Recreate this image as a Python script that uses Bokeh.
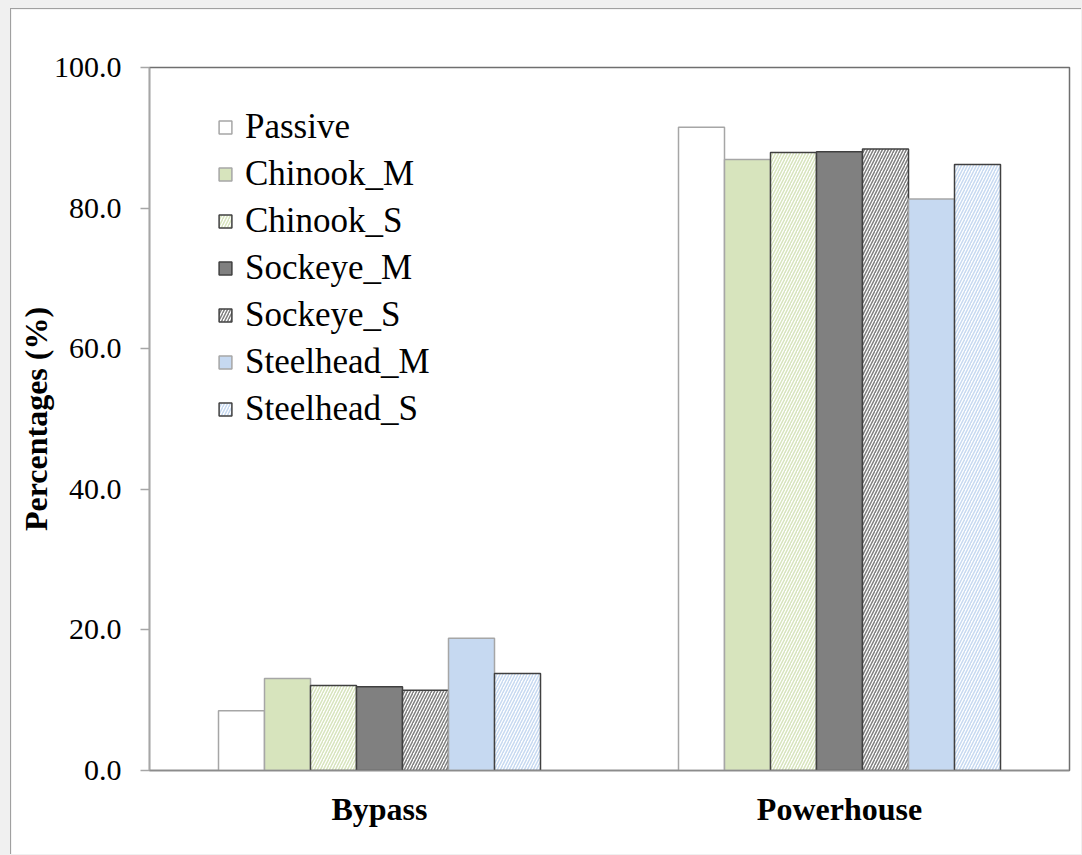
from bokeh.plotting import figure
from bokeh.models import (FactorRange, ColumnDataSource, Legend, LegendItem,
                          FixedTicker, NumeralTickFormatter, Range1d,
                          GlobalInlineStyleSheet)
from bokeh.transform import dodge
from bokeh.embed import file_html
from bokeh.resources import INLINE

# ---- data ----
categories = ["Bypass", "Powerhouse"]
series = ["Passive", "Chinook_M", "Chinook_S", "Sockeye_M", "Sockeye_S",
          "Steelhead_M", "Steelhead_S"]
passive = [8.5, 91.5]
chinook_m = [13.1, 86.9]
chinook_s = [12.1, 87.9]
sockeye_m = [11.9, 88.0]
sockeye_s = [11.4, 88.4]
steelhead_m = [18.8, 81.3]
steelhead_s = [13.8, 86.2]
values = [passive, chinook_m, chinook_s, sockeye_m, sockeye_s,
          steelhead_m, steelhead_s]
y_ticks = [0, 20, 40, 60, 80, 100]

# ---- styles ----
fill_colors = ["#ffffff", "#d7e4bd", "#ffffff", "#808080", "#ffffff",
               "#c6d9f1", "#ffffff"]
hatch_patterns = [None, None, "/", None, "/", None, "/"]
hatch_colors = [None, None, "#d7e4bd", None, "#7f7f7f", None, "#c6d9f1"]
line_colors = ["#a6a6a6", "#a6a6a6", "#404040", "#404040", "#404040",
               "#a6a6a6", "#404040"]

FONT = "Liberation Serif"
BAR_W = 0.1  # Excel-like gap width of 300%: 7 bars + 3 bar-widths of gap

x_range = FactorRange(*categories, range_padding=0)

p = figure(x_range=x_range, y_range=Range1d(0, 100),
           width=1071, height=846, output_backend="svg",
           toolbar_location=None,
           min_border_left=138, min_border_right=13,
           min_border_top=58, min_border_bottom=85)
p.stylesheets.append(GlobalInlineStyleSheet(css="body { background: #f0f0f0; }"))
p.styles = {"margin-left": "10px", "margin-top": "8px",
            "border-left": "1px solid #a0a0a0", "border-top": "1px solid #a0a0a0"}
p.background_fill_color = "white"
p.border_fill_color = "white"
p.outline_line_color = "#6f6f6f"
p.outline_line_width = 1.5
p.xgrid.grid_line_color = None
p.ygrid.grid_line_color = None

n = len(series)
renderers = []
for i, (name, vals, fc, hp, hc, lc) in enumerate(zip(series, values, fill_colors,
                                                     hatch_patterns, hatch_colors,
                                                     line_colors)):
    src = ColumnDataSource(dict(cat=categories, top=vals))
    off = (i - (n - 1) / 2) * BAR_W
    kw = dict(x=dodge("cat", off, range=p.x_range), top="top", width=BAR_W,
              source=src, fill_color=fc, line_color=lc, line_width=1.5)
    if hp:
        kw.update(hatch_pattern=hp, hatch_color=hc, hatch_scale=6,
                  hatch_weight=1.5)
    r = p.vbar(**kw)
    renderers.append((name, r))

legend = Legend(items=[LegendItem(label=nm, renderers=[r]) for nm, r in renderers],
                location=(68, 341), orientation="vertical",
                glyph_width=16, glyph_height=16, label_standoff=12,
                spacing=7, padding=0, margin=0,
                label_text_font=FONT, label_text_font_size="35px",
                label_text_color="#000000",
                background_fill_alpha=0, border_line_color=None)
p.add_layout(legend, "center")

# y axis
yax = p.yaxis[0]
yax.ticker = FixedTicker(ticks=y_ticks)
yax.formatter = NumeralTickFormatter(format="0.0")
yax.minor_tick_line_color = None
yax.major_tick_in = 0
yax.major_tick_out = 9
yax.major_tick_line_color = "#a6a6a6"
yax.major_tick_line_width = 1.5
yax.axis_line_color = "#a6a6a6"
yax.axis_line_width = 1.5
yax.major_label_text_font = FONT
yax.major_label_text_font_size = "30px"
yax.major_label_text_color = "#000000"
yax.major_label_standoff = 19
yax.axis_label = "Percentages (%)"
yax.axis_label_text_font = FONT
yax.axis_label_text_font_size = "32px"
yax.axis_label_text_font_style = "bold"
yax.axis_label_text_color = "#000000"
yax.axis_label_standoff = -3

# x axis
xax = p.xaxis[0]
xax.major_tick_line_color = None
xax.minor_tick_line_color = None
xax.axis_line_color = "#8c8c8c"
xax.axis_line_width = 1.5
xax.major_label_text_font = FONT
xax.major_label_text_font_size = "32px"
xax.major_label_text_font_style = "bold"
xax.major_label_text_color = "#000000"
xax.major_label_standoff = 14

open("out.html", "w").write(file_html(p, INLINE))
